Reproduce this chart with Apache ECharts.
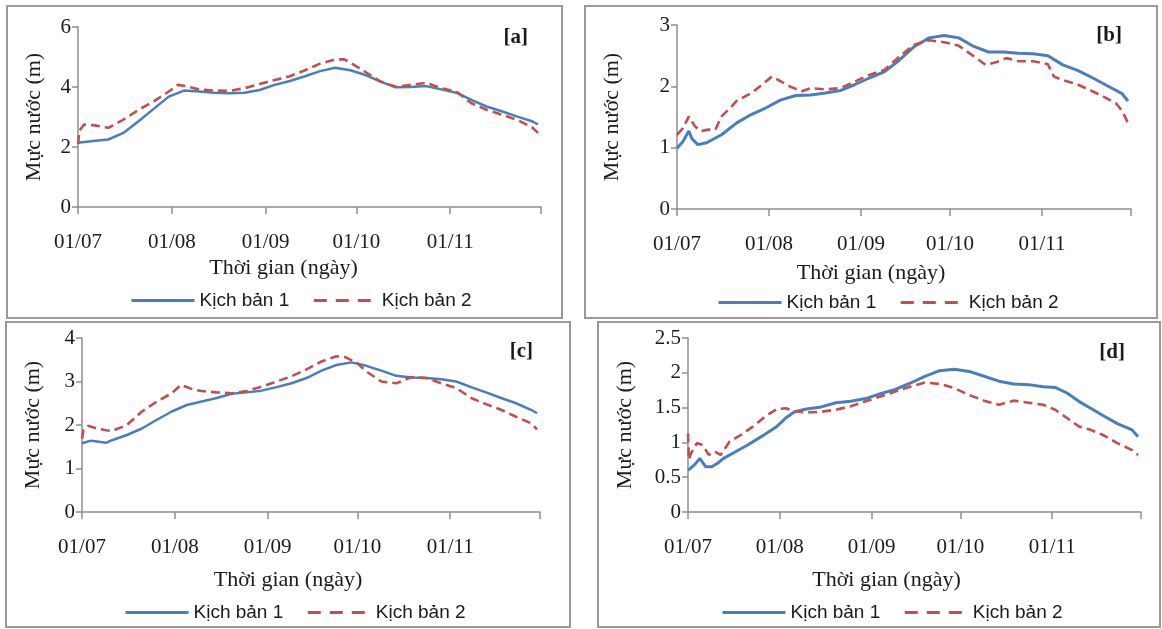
<!DOCTYPE html>
<html>
<head>
<meta charset="utf-8">
<script src="https://cdn.jsdelivr.net/npm/echarts@6/dist/echarts.min.js"></script>
<style>
  html, body { margin: 0; padding: 0; background: #fff; }
  #chart { width: 1162px; height: 629px; }
</style>
</head>
<body>
<div id="chart"></div>
<script>
  // trục thời gian: số ngày kể từ 01/07
  var monthDays = [0, 31, 62, 92, 123]
  var monthLabels = ['01/07', '01/08', '01/09', '01/10', '01/11']
  var endDay = 153
  var seriesNames = ['Kịch bản 1', 'Kịch bản 2']

  // [a]
  var a1Days = [0, 5, 10, 15, 20, 25, 30, 35, 40, 45, 50, 55, 60, 65, 70, 75, 80, 85, 90, 95, 100, 105, 110, 115, 120, 125, 130, 135, 140, 145, 150, 152]
  var a1 = [2.14, 2.2, 2.25, 2.47, 2.86, 3.27, 3.68, 3.88, 3.85, 3.81, 3.79, 3.81, 3.9, 4.07, 4.2, 4.36, 4.53, 4.64, 4.56, 4.4, 4.18, 3.99, 4.0, 4.03, 3.92, 3.81, 3.57, 3.35, 3.19, 3.02, 2.86, 2.75]
  var a2Days = [0, 0.5, 2, 5, 10, 15, 20, 25, 30, 33, 35, 40, 45, 50, 55, 60, 65, 70, 75, 80, 85, 88, 90, 95, 100, 105, 110, 115, 120, 125, 130, 135, 140, 145, 150, 152]
  var a2 = [2.1, 2.55, 2.75, 2.73, 2.64, 2.91, 3.24, 3.52, 3.85, 4.07, 4.04, 3.92, 3.88, 3.87, 3.96, 4.1, 4.23, 4.36, 4.56, 4.78, 4.92, 4.92, 4.81, 4.5, 4.18, 4.01, 4.07, 4.14, 3.96, 3.85, 3.46, 3.24, 3.08, 2.91, 2.66, 2.47]

  // [b]
  var b1Days = [0, 2, 4, 5, 7, 10, 15, 20, 25, 30, 35, 40, 45, 50, 55, 60, 65, 70, 75, 80, 85, 90, 95, 100, 105, 110, 115, 120, 125, 130, 135, 140, 145, 150, 152]
  var b1 = [0.99, 1.1, 1.27, 1.15, 1.05, 1.08, 1.21, 1.4, 1.54, 1.65, 1.78, 1.85, 1.86, 1.89, 1.93, 2.03, 2.14, 2.24, 2.43, 2.65, 2.79, 2.83, 2.79, 2.65, 2.56, 2.56, 2.54, 2.53, 2.5, 2.35, 2.26, 2.14, 2.01, 1.88, 1.76]
  var b2Days = [0, 2, 4, 6, 8, 10, 13, 15, 18, 20, 25, 28, 32, 35, 38, 42, 45, 50, 55, 60, 65, 70, 75, 80, 85, 90, 95, 100, 104, 108, 111, 115, 120, 125, 127, 130, 135, 140, 145, 148, 150, 152]
  var b2 = [1.21, 1.32, 1.51, 1.35, 1.27, 1.29, 1.3, 1.51, 1.65, 1.76, 1.89, 2.0, 2.16, 2.08, 2.0, 1.92, 1.97, 1.95, 1.97, 2.08, 2.19, 2.27, 2.49, 2.68, 2.75, 2.72, 2.66, 2.49, 2.35, 2.4, 2.46, 2.41, 2.41, 2.36, 2.16, 2.1, 2.03, 1.92, 1.8, 1.72, 1.6, 1.4]

  // [c]
  var c1Days = [0, 3, 5, 8, 10, 15, 20, 25, 30, 35, 40, 45, 50, 55, 60, 65, 70, 75, 80, 85, 90, 95, 100, 105, 110, 115, 120, 125, 130, 135, 140, 145, 150, 152]
  var c1 = [1.58, 1.64, 1.62, 1.59, 1.65, 1.77, 1.92, 2.12, 2.31, 2.46, 2.54, 2.62, 2.72, 2.75, 2.79, 2.87, 2.96, 3.08, 3.25, 3.38, 3.44, 3.36, 3.25, 3.13, 3.09, 3.08, 3.05, 3.0, 2.87, 2.75, 2.62, 2.5, 2.35, 2.27]
  var c2Days = [0, 0.5, 2, 5, 8, 10, 15, 20, 25, 30, 33, 37, 40, 45, 50, 55, 60, 65, 70, 75, 80, 85, 88, 92, 95, 100, 105, 108, 110, 115, 120, 125, 130, 135, 140, 145, 150, 152]
  var c2 = [1.69, 1.88, 1.98, 1.92, 1.88, 1.86, 2.0, 2.31, 2.54, 2.73, 2.92, 2.82, 2.78, 2.75, 2.73, 2.78, 2.88, 3.0, 3.12, 3.28, 3.46, 3.58, 3.56, 3.42, 3.23, 3.0, 2.96, 3.04, 3.1, 3.08, 2.96, 2.85, 2.62, 2.48, 2.35, 2.19, 2.04, 1.9]

  // [d]
  var d1Days = [0, 2, 4, 6, 8, 10, 12, 15, 20, 25, 30, 33, 36, 40, 45, 50, 55, 60, 65, 70, 75, 80, 85, 90, 95, 100, 105, 110, 115, 120, 124, 128, 132, 136, 140, 145, 150, 152]
  var d1 = [0.6, 0.67, 0.77, 0.65, 0.65, 0.7, 0.77, 0.84, 0.96, 1.09, 1.23, 1.35, 1.44, 1.48, 1.51, 1.57, 1.59, 1.63, 1.7, 1.76, 1.85, 1.95, 2.03, 2.05, 2.02, 1.95, 1.88, 1.84, 1.83, 1.8, 1.79, 1.71, 1.59, 1.49, 1.39, 1.27, 1.18, 1.08]
  var d2Days = [0, 0.3, 1, 3, 5, 7, 9, 11, 14, 18, 22, 26, 30, 33, 36, 40, 45, 50, 55, 60, 65, 70, 75, 80, 85, 90, 95, 100, 105, 110, 115, 120, 124, 128, 132, 136, 140, 145, 150, 152]
  var d2 = [1.13, 0.75, 0.84, 0.99, 0.96, 0.82, 0.87, 0.82, 1.01, 1.11, 1.23, 1.37, 1.48, 1.49, 1.45, 1.43, 1.44, 1.47, 1.52, 1.59, 1.66, 1.73, 1.8, 1.86, 1.84, 1.78, 1.68, 1.6, 1.54, 1.6, 1.57, 1.54, 1.47, 1.35, 1.23, 1.18, 1.11, 0.99, 0.89, 0.82]

  // bố cục từng ô
  var panels = [
    {tag: '[a]', grid: {left: 78, top: 27, width: 463, height: 180}, yMax: 6, yStep: 2,
      s1: [a1Days, a1], s2: [a2Days, a2], yGap: 33, xGap: 50, xShift: 26, lw: 2.5,
      box: [7, 6, 555, 312], legend: {left: 125, top: 286}, tagPos: {right: 634, top: 27}},
    {tag: '[b]', grid: {left: 677, top: 25, width: 454, height: 184}, yMax: 3, yStep: 1,
      s1: [b1Days, b1], s2: [b2Days, b2], yGap: 54, xGap: 53, xShift: 33, lw: 3,
      box: [585, 6, 572, 312], legend: {left: 712, top: 288}, tagPos: {right: 40, top: 25}},
    {tag: '[c]', grid: {left: 82, top: 338, width: 458, height: 174}, yMax: 4, yStep: 1,
      s1: [c1Days, c1], s2: [c2Days, c2], yGap: 38, xGap: 57, xShift: 23, lw: 2.5,
      box: [6, 322, 564, 305], legend: {left: 119, top: 598}, tagPos: {right: 629, top: 341}},
    {tag: '[d]', grid: {left: 688, top: 338, width: 453, height: 174}, yMax: 2.5, yStep: 0.5,
      s1: [d1Days, d1], s2: [d2Days, d2], yGap: 52, xGap: 57, xShift: 28, lw: 3,
      box: [598, 322, 562, 305], legend: {left: 716, top: 598}, tagPos: {right: 37, top: 342}}
  ]

  var serif = 'Liberation Serif'
  var axisColor = '#8f8f8f'
  var textColor = '#1a1a1a'

  function pairs (days, vals) {
    return days.map(function (d, i) { return [d, vals[i]] })
  }

  var option = {
    backgroundColor: '#fff',
    animation: false,
    grid: [], xAxis: [], yAxis: [], series: [], legend: [], title: [], graphic: []
  }

  panels.forEach(function (p, k) {
    option.grid.push(Object.assign({outerBoundsMode: 'none'}, p.grid))
    option.xAxis.push({
      type: 'value',
      gridIndex: k,
      min: 0,
      max: endDay,
      name: 'Thời gian (ngày)',
      nameLocation: 'middle',
      nameGap: p.xGap,
      nameMoveOverlap: false,
      nameTextStyle: {fontFamily: serif, fontSize: 22, color: textColor, padding: [0, p.xShift * 2, 0, 0]},
      axisLine: {lineStyle: {color: axisColor, width: 1.5}},
      axisTick: {show: true, inside: false, length: 7, lineStyle: {color: axisColor, width: 1.5},
        customValues: monthDays.concat([endDay])},
      axisLabel: {
        customValues: monthDays,
        margin: 25,
        fontFamily: serif,
        fontSize: 21,
        color: textColor,
        formatter: function (v) { return monthLabels[monthDays.indexOf(v)] }
      },
      splitLine: {show: false}
    })
    option.yAxis.push({
      type: 'value',
      gridIndex: k,
      min: 0,
      max: p.yMax,
      interval: p.yStep,
      name: 'Mực nước (m)',
      nameLocation: 'middle',
      nameGap: p.yGap,
      nameMoveOverlap: false,
      nameTextStyle: {fontFamily: serif, fontSize: 22, color: textColor},
      axisLine: {show: true, lineStyle: {color: axisColor, width: 1.5}},
      axisTick: {show: true, inside: false, length: 6, lineStyle: {color: axisColor, width: 1.5}},
      axisLabel: {margin: 7, fontFamily: serif, fontSize: 21, color: textColor},
      splitLine: {show: false}
    })
    option.series.push({
      name: seriesNames[0],
      type: 'line',
      xAxisIndex: k,
      yAxisIndex: k,
      data: pairs(p.s1[0], p.s1[1]),
      symbol: 'none',
      lineStyle: {color: '#4a7ebb', width: p.lw},
      itemStyle: {color: '#4a7ebb'},
      z: 3
    })
    option.series.push({
      name: seriesNames[1],
      type: 'line',
      xAxisIndex: k,
      yAxisIndex: k,
      data: pairs(p.s2[0], p.s2[1]),
      symbol: 'none',
      lineStyle: {color: '#c0504d', width: 2.6, type: [9, 5]},
      itemStyle: {color: '#c0504d'},
      z: 4
    })
    option.legend.push({
      left: p.legend.left,
      top: p.legend.top,
      orient: 'horizontal',
      itemWidth: 63,
      itemHeight: 14,
      itemGap: 23,
      selectedMode: false,
      itemStyle: {opacity: 0},
      lineStyle: {width: 3},
      data: [
        {name: seriesNames[0]},
        {name: seriesNames[1], lineStyle: {type: [13, 9]}}
      ],
      textStyle: {fontFamily: 'Liberation Sans', fontSize: 19, color: textColor}
    })
    option.title.push({
      text: p.tag,
      right: p.tagPos.right,
      top: p.tagPos.top,
      padding: 0,
      textStyle: {fontFamily: serif, fontWeight: 'bold', fontSize: 21, color: textColor}
    })
    // khung viền của ô
    option.graphic.push({
      type: 'rect',
      shape: {x: p.box[0], y: p.box[1], width: p.box[2], height: p.box[3]},
      style: {fill: null, stroke: '#9a9a9a', lineWidth: 2},
      silent: true,
      z: -1
    })
  })

  var chart = echarts.init(document.getElementById('chart'))
  chart.setOption(option)
</script>
</body>
</html>
